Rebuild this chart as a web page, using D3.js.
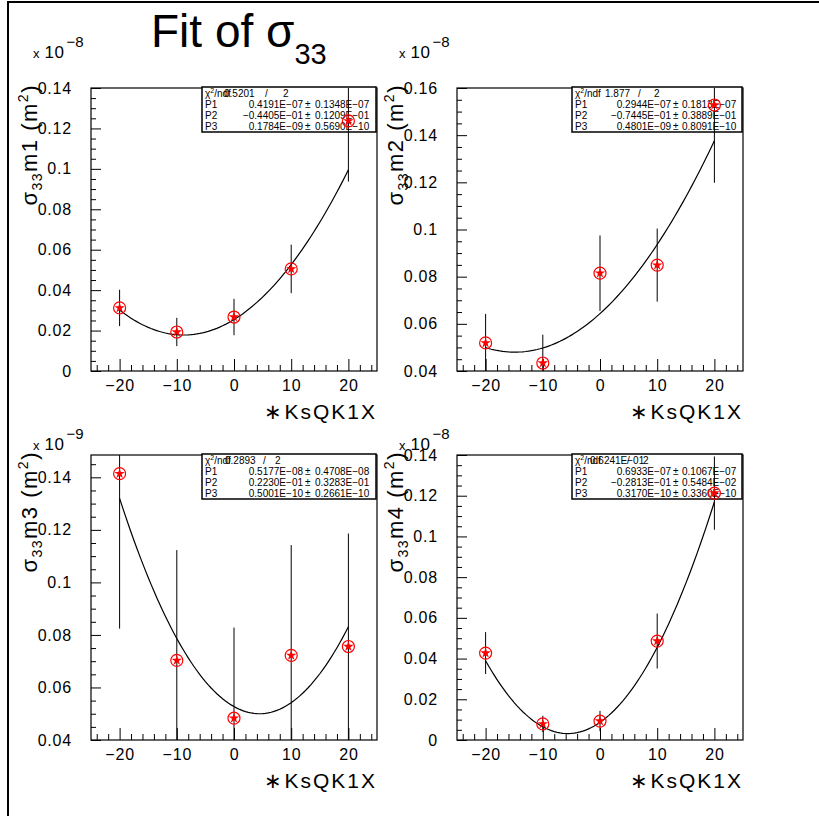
<!DOCTYPE html>
<html><head><meta charset="utf-8">
<script src="https://cdn.jsdelivr.net/npm/d3@7"></script>
<style>
body{margin:0;background:#fff}
svg{display:block}
text{font-family:"Liberation Sans",Arial,Helvetica,sans-serif;fill:#000}
</style>
</head><body><script>
// ---------------- data ----------------
const xValues = [-20, -10, 0, 10, 20];
const xTicks = [-20, -10, 0, 10, 20];
const xDomain = [-25, 25];

const m1Values = [0.0312, 0.0193, 0.0267, 0.0505, 0.1237];
const m1Errors = [0.009, 0.007, 0.009, 0.012, 0.030];
const m2Values = [0.0519, 0.0434, 0.0815, 0.0849, 0.1528];
const m2Errors = [0.0123, 0.012, 0.016, 0.0155, 0.033];
const m3Values = [0.1414, 0.0703, 0.0483, 0.0722, 0.0756];
const m3Errors = [0.059, 0.042, 0.0345, 0.042, 0.043];
const m4Values = [0.0427, 0.0079, 0.0093, 0.0486, 0.1213];
const m4Errors = [0.0103, 0.004, 0.005, 0.0135, 0.018];

const yDomains = [[0, 0.14], [0.04, 0.16], [0.04, 0.1485], [0, 0.14]];
const yTicks1 = [0, 0.02, 0.04, 0.06, 0.08, 0.1, 0.12, 0.14];
const yTicks2 = [0.04, 0.06, 0.08, 0.1, 0.12, 0.14, 0.16];
const yTicks3 = [0.04, 0.06, 0.08, 0.1, 0.12, 0.14];
const yTicks4 = [0, 0.02, 0.04, 0.06, 0.08, 0.1, 0.12, 0.14];

// parabolic fit: y = curvature*(x - vertex)^2 + minimum
const fitVertex = [-8.8, -14.9, 4.46, -5.63];
const fitMinimum = [0.0178, 0.048, 0.05, 0.00317];
const fitCurvature = [9.85e-5, 7.36e-5, 1.37e-4, 1.733e-4];

const yTitleSuffix = ["1", "2", "3", "4"];
const scaleExponents = ["\u22128", "\u22128", "\u22129", "\u22128"];

const statChi2 = ["0.5201", "1.877", "0.2893", "0.6241E\u221201"];
const statNdf = ["2", "2", "2", "2"];
const statP1 = [["0.4191E\u221207", "0.1348E\u221207"], ["0.2944E\u221207", "0.1813E\u221207"], ["0.5177E\u221208", "0.4708E\u221208"], ["0.6933E\u221207", "0.1067E\u221207"]];
const statP2 = [["\u22120.4405E\u221201", "0.1209E\u221201"], ["\u22120.7445E\u221201", "0.3889E\u221201"], ["0.2230E\u221201", "0.3283E\u221201"], ["\u22120.2813E\u221201", "0.5484E\u221202"]];
const statP3 = [["0.1784E\u221209", "0.5690E\u221210"], ["0.4801E\u221209", "0.8091E\u221210"], ["0.5001E\u221210", "0.2661E\u221210"], ["0.3170E\u221210", "0.3360E\u221210"]];

// ---------------- layout ----------------
const W = 819, H = 816;
const frames = [
  {x: 91, y: 88, w: 286, h: 283, sfY: 58},
  {x: 457, y: 88, w: 286, h: 283, sfY: 58},
  {x: 91, y: 455, w: 286, h: 285, sfY: 450},
  {x: 457, y: 455, w: 286, h: 285, sfY: 450}
];
const boxes = [
  {x: 202, y: 87, w: 174, h: 45, chiV: 22, slash: 63, ndf: 81, V: 101, err: 113},
  {x: 572, y: 87, w: 170, h: 45, chiV: 33, slash: 66, ndf: 82, V: 99, err: 110},
  {x: 202, y: 454, w: 174, h: 45, chiV: 23, slash: 61, ndf: 73, V: 101, err: 113},
  {x: 572, y: 454, w: 170, h: 45, chiV: 18, slash: 55, ndf: 71, V: 99, err: 110}
];

const svg = d3.select("body").append("svg").attr("width", W).attr("height", H);

// outer border
svg.append("path").attr("d", `M8,${H} V2 H${W}`).attr("fill", "none").attr("stroke", "#000").attr("stroke-width", 2);

// title
const title = svg.append("text").attr("x", 151).attr("y", 47).attr("font-size", 46);
title.append("tspan").text("Fit of \u03c3");
title.append("tspan").attr("font-size", 29).attr("dy", 17).text("33");

const allValues = [m1Values, m2Values, m3Values, m4Values];
const allErrors = [m1Errors, m2Errors, m3Errors, m4Errors];
const allYTicks = [yTicks1, yTicks2, yTicks3, yTicks4];
const allStats = [0, 1, 2, 3].map(i => ({chi: statChi2[i], ndf: statNdf[i], rows: [["P1", statP1[i]], ["P2", statP2[i]], ["P3", statP3[i]]]}));

allValues.forEach((vals, i) => {
  const f = frames[i];
  const errs = allErrors[i];
  const x = d3.scaleLinear().domain(xDomain).range([0, f.w]);
  const y = d3.scaleLinear().domain(yDomains[i]).range([f.h, 0]);
  const g = svg.append("g").attr("transform", `translate(${f.x},${f.y})`);

  const clipId = "clip" + i;
  svg.append("clipPath").attr("id", clipId).append("rect")
    .attr("x", f.x).attr("y", f.y).attr("width", f.w).attr("height", f.h);

  // x minor ticks
  const minorX = d3.range(-24, 25, 2).filter(v => !xTicks.includes(v));
  g.append("g").attr("transform", `translate(0,${f.h})`)
    .call(d3.axisBottom(x).tickValues(minorX).tickSizeInner(-6).tickSizeOuter(0).tickFormat(""))
    .call(a => a.select(".domain").remove());
  // x major ticks
  g.append("g").attr("transform", `translate(0,${f.h})`)
    .call(d3.axisBottom(x).tickValues(xTicks).tickSizeInner(-12).tickSizeOuter(0).tickPadding(9))
    .call(a => a.select(".domain").remove())
    .call(a => a.selectAll("text").attr("font-size", 16).attr("letter-spacing", 0.8).attr("font-family", '"Liberation Sans",Arial,sans-serif'));

  // y minor ticks
  const yd = yDomains[i];
  const minorY = d3.range(Math.round(yd[0] * 200), Math.floor(yd[1] * 200 + 1e-6) + 1).map(k => k / 200)
    .filter(v => !allYTicks[i].some(t => Math.abs(t - v) < 1e-9));
  g.append("g")
    .call(d3.axisLeft(y).tickValues(minorY).tickSizeInner(-5).tickSizeOuter(0).tickFormat(""))
    .call(a => a.select(".domain").remove());
  g.append("g")
    .call(d3.axisLeft(y).tickValues(allYTicks[i]).tickSizeInner(-10).tickSizeOuter(0).tickPadding(19)
      .tickFormat(d => String(+d.toFixed(2))))
    .call(a => a.select(".domain").remove())
    .call(a => a.selectAll("text").attr("font-size", 16).attr("letter-spacing", 0.8).attr("font-family", '"Liberation Sans",Arial,sans-serif'));

  // frame
  g.append("rect").attr("width", f.w).attr("height", f.h).attr("fill", "none").attr("stroke", "#000").attr("stroke-width", 1.2);

  // x title
  g.append("text").attr("x", f.w).attr("y", f.h + 48).attr("text-anchor", "end")
    .attr("font-size", 21).attr("letter-spacing", 2).text("\u2217KsQK1X");

  // y title
  const yt = svg.append("text").attr("transform", `translate(${f.x - 54},${f.y - 4}) rotate(-90)`)
    .attr("text-anchor", "end").attr("font-size", 22).attr("letter-spacing", 1.5);
  yt.append("tspan").text("\u03c3");
  yt.append("tspan").attr("font-size", 14).attr("dy", 5).text("33");
  yt.append("tspan").attr("dy", -5).text("m" + yTitleSuffix[i] + " (m");
  yt.append("tspan").attr("font-size", 14).attr("dy", -9).text("2");
  yt.append("tspan").attr("dy", 9).text(")");

  // scale factor
  const sf = svg.append("text").attr("x", f.x - 58).attr("y", f.sfY);
  sf.append("tspan").attr("font-size", 13).text("x");
  sf.append("tspan").attr("font-size", 17).attr("dx", 5).attr("letter-spacing", 0.5).text("10");
  sf.append("tspan").attr("font-size", 15).attr("dy", -11).attr("dx", 2).text(scaleExponents[i]);

  // stat box
  const b = boxes[i], st = allStats[i];
  const bg = svg.append("g").attr("transform", `translate(${b.x},${b.y})`).attr("font-size", 10);
  bg.append("rect").attr("width", b.w).attr("height", b.h).attr("fill", "#fff").attr("stroke", "#000").attr("stroke-width", 1.5);
  const chiT = bg.append("text").attr("x", 3).attr("y", 10).attr("font-size", 10);
  chiT.append("tspan").text("\u03c7");
  chiT.append("tspan").attr("font-size", 7).attr("dy", -4).text("2");
  chiT.append("tspan").attr("dy", 4).text("/ndf");
  bg.append("text").attr("x", b.chiV).attr("y", 10).text(st.chi);
  bg.append("text").attr("x", b.slash).attr("y", 10).text("/");
  bg.append("text").attr("x", b.ndf).attr("y", 10).text(st.ndf);
  st.rows.forEach((r, k) => {
    const yy = 21 + k * 11;
    bg.append("text").attr("x", 3).attr("y", yy).text(r[0]);
    bg.append("text").attr("x", b.V).attr("y", yy).attr("text-anchor", "end").text(r[1][0]);
    bg.append("text").attr("x", b.V + 2).attr("y", yy).text("\u00b1");
    bg.append("text").attr("x", b.err).attr("y", yy).text(r[1][1]);
  });

  // fit curve
  const xs = d3.range(-20, 20.01, 0.5);
  const line = d3.line().x(d => x(d)).y(d => y(fitCurvature[i] * (d - fitVertex[i]) ** 2 + fitMinimum[i]));
  g.append("path").datum(xs).attr("d", line).attr("fill", "none").attr("stroke", "#000").attr("stroke-width", 1.2);

  // error bars (clipped)
  const eb = svg.append("g").attr("clip-path", `url(#${clipId})`).append("g").attr("transform", `translate(${f.x},${f.y})`);
  eb.selectAll("line").data(xValues).join("line")
    .attr("x1", d => x(d)).attr("x2", d => x(d))
    .attr("y1", (d, j) => y(vals[j] - errs[j])).attr("y2", (d, j) => y(vals[j] + errs[j]))
    .attr("stroke", "#000").attr("stroke-width", 1);

  // markers
  const star = d3.symbol().type(d3.symbolStar).size(34);
  const mk = svg.append("g").attr("transform", `translate(${f.x},${f.y})`)
    .selectAll("g.mk").data(xValues).join("g").attr("class", "mk")
    .attr("transform", (d, j) => `translate(${x(d)},${y(vals[j])})`);
  mk.append("circle").attr("r", 6).attr("fill", "none").attr("stroke", "#f00").attr("stroke-width", 1.2);
  mk.append("path").attr("d", star).attr("fill", "#f00");
});
</script></body></html>
